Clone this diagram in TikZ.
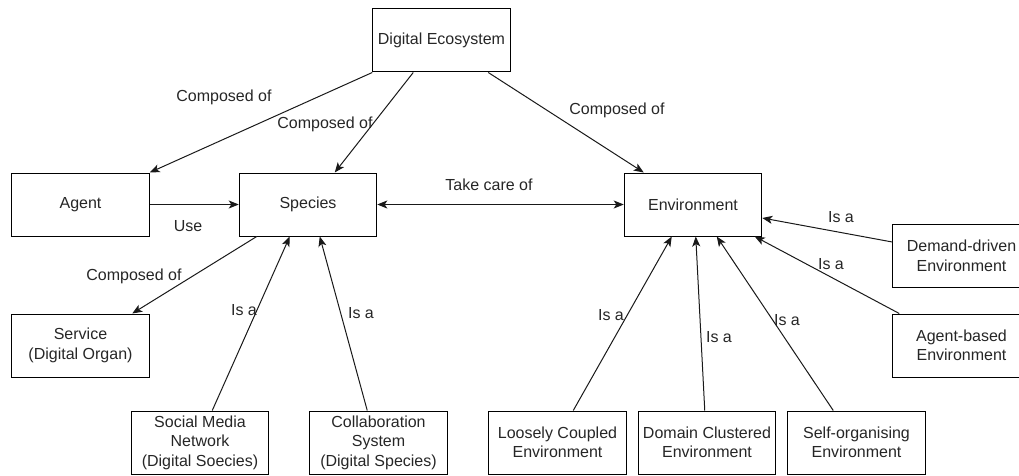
\documentclass[tikz,border=0pt]{standalone}
\usepackage{fontspec}
\setmainfont{Liberation Sans}
\usetikzlibrary{arrows.meta}
\begin{document}
\begin{tikzpicture}[x=1pt,y=-1pt,
  box/.style={draw=black, line width=1pt, minimum width=137.5pt, minimum height=63pt, inner sep=0pt, align=center, font=\fontsize{16}{19.5}\selectfont, text=black!85},
  lbl/.style={inner sep=0pt, font=\fontsize{16}{19.5}\selectfont, text=black!85},
  conn/.style={line width=1pt, draw=black!90, -{Stealth[length=10pt,width=8pt,inset=2.5pt]}},
  bconn/.style={line width=1pt, draw=black!90, {Stealth[length=10pt,width=8pt,inset=2.5pt]}-{Stealth[length=10pt,width=8pt,inset=2.5pt]}},
]
\useasboundingbox (0,0) rectangle (1019,476);

% boxes
\node[box] (de) at (441.5,40.5) {Digital Ecosystem};
\node[box] (agent) at (80.5,204.5) {Agent};
\node[box] (species) at (308,204.5) {Species};
\node[box] (env) at (693,204.5) {Environment};
\node[box] (demand) at (961.5,256) {Demand-driven\\Environment};
\node[box] (agentb) at (961.5,345.5) {Agent-based\\Environment};
\node[box] (service) at (80.5,345.5) {Service\\(Digital Organ)};
\node[box] (social) at (200,442.5) {Social Media\\Network\\(Digital Soecies)};
\node[box] (collab) at (378.5,442.5) {Collaboration\\System\\(Digital Species)};
\node[box] (loose) at (557.5,442.5) {Loosely Coupled\\Environment};
\node[box] (domain) at (707,442.5) {Domain Clustered\\Environment};
\node[box] (self) at (856.5,442.5) {Self-organising\\Environment};

% connectors
\draw[conn] (de.south west) -- (agent.north east);
\draw[conn] ([xshift=41pt]de.south west) -- ([xshift=96pt]species.north west);
\draw[conn] ([xshift=116pt]de.south west) -- ([xshift=20pt]env.north west);
\draw[conn] (agent.east) -- (species.west);
\draw[bconn] (species.east) -- (env.west);
\draw[conn] ([xshift=18pt]species.south west) -- ([xshift=121pt]service.north west);
\draw[conn] ([xshift=81.5pt]social.north west) -- ([xshift=51pt]species.south west);
\draw[conn] ([xshift=58pt]collab.north west) -- ([xshift=81pt]species.south west);
\draw[conn] ([xshift=85pt]loose.north west) -- ([xshift=48pt]env.south west);
\draw[conn] ([xshift=67pt]domain.north west) -- ([xshift=72pt]env.south west);
\draw[conn] ([xshift=46pt]self.north west) -- ([xshift=93pt]env.south west);
\draw[conn] ([yshift=14pt]demand.west) -- ([yshift=-13.5pt]env.east);
\draw[conn] ([xshift=7pt]agentb.north west) -- ([xshift=131pt]env.south west);

% labels
\node[lbl] (l1) at (224,97) {Composed of};
\node[lbl] (l2) at (325,124) {Composed of};
\node[lbl] (l3) at (617,110) {Composed of};
\node[lbl] (l4) at (188,226) {Use};
\node[lbl] (l5) at (489,185) {Take care of};
\node[lbl] (l6) at (134,276) {Composed of};
\node[lbl] (l7) at (244,310) {Is a};
\node[lbl] (l8) at (361,313) {Is a};
\node[lbl] (l9) at (611,315) {Is a};
\node[lbl] (l10) at (719,337) {Is a};
\node[lbl] (l11) at (787,320) {Is a};
\node[lbl] (l12) at (841,217) {Is a};
\node[lbl] (l13) at (831,264) {Is a};
\end{tikzpicture}
\end{document}
